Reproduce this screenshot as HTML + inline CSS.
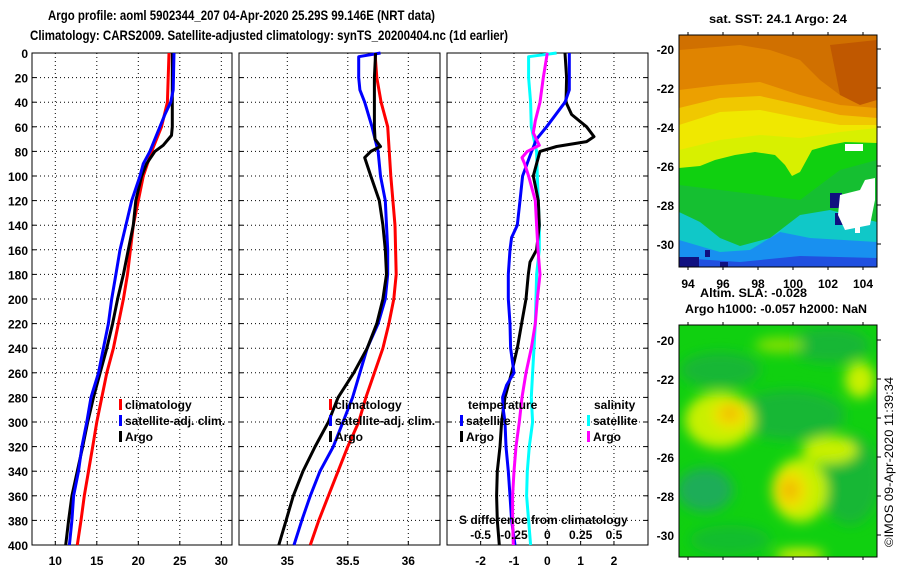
<!DOCTYPE html>
<html><head><meta charset="utf-8"><style>
html,body{margin:0;padding:0;background:#fff;}
svg{display:block;font-family:"Liberation Sans",sans-serif;font-weight:bold;}
</style></head><body>
<svg id="chart" width="900" height="580" viewBox="0 0 900 580" xmlns="http://www.w3.org/2000/svg">
<defs>
<filter id="blur4" x="-50%" y="-50%" width="200%" height="200%"><feGaussianBlur stdDeviation="6"/></filter>
<clipPath id="clipTop"><rect x="679" y="35" width="198" height="232"/></clipPath>
<clipPath id="clipBot"><rect x="679" y="325" width="198" height="232"/></clipPath>
</defs>
<text x="48" y="20" font-size="14" textLength="387" lengthAdjust="spacingAndGlyphs">Argo profile: aoml 5902344_207 04-Apr-2020 25.29S 99.146E (NRT data)</text>
<text x="30" y="40" font-size="14" textLength="478" lengthAdjust="spacingAndGlyphs">Climatology: CARS2009. Satellite-adjusted climatology: synTS_20200404.nc (1d earlier)</text>

<g>
<text x="778" y="23" font-size="12" text-anchor="middle" textLength="138" lengthAdjust="spacingAndGlyphs">sat. SST: 24.1 Argo: 24</text>
<g clip-path="url(#clipTop)">
<rect x="679" y="35" width="198" height="232" fill="#e08400"/>
<path d="M679 35 L877 35 L877 80 L860 100 L840 95 L820 80 L800 60 L770 50 L740 45 L679 50Z" fill="#d07000"/>
<path d="M830 45 L877 40 L877 100 L860 105 L840 95Z" fill="#c05800"/>
<path d="M679 90 L720 85 L760 82 L800 95 L840 105 L877 108 L877 267 L679 267Z" fill="#eca000"/>
<path d="M679 108 L720 98 L760 96 L800 105 L840 115 L877 118 L877 267 L679 267Z" fill="#f0c800"/>
<path d="M679 125 L720 112 L760 110 L800 118 L840 125 L877 125 L877 267 L679 267Z" fill="#f0e800"/>
<path d="M679 150 L720 140 L760 135 L800 138 L840 132 L877 128 L877 267 L679 267Z" fill="#d8f000"/>
<path d="M679 168 L700 166 L715 160 L735 155 L755 152 L775 155 L785 165 L792 176 L800 172 L812 150 L830 145 L845 142 L877 143 L877 267 L679 267Z" fill="#10d010"/>
<path d="M679 185 L720 190 L760 195 L800 200 L840 170 L877 160 L877 267 L679 267Z" fill="#18b840" opacity="0.7"/>
<path d="M679 212 L700 222 L720 238 L740 246 L770 238 L800 215 L830 210 L877 222 L877 267 L679 267Z" fill="#10c8c8"/>
<path d="M679 240 L720 252 L750 250 L780 232 L810 238 L877 242 L877 267 L679 267Z" fill="#1890f0"/>
<path d="M679 258 L740 262 L800 256 L877 258 L877 267 L679 267Z" fill="#2050e0"/>
<rect x="679" y="257" width="20" height="10" fill="#101080"/>
<rect x="705" y="250" width="5" height="7" fill="#101080"/>
<rect x="720" y="262" width="8" height="5" fill="#101080"/>
<rect x="830" y="193" width="12" height="15" fill="#101080"/>
<rect x="835" y="213" width="10" height="12" fill="#101080"/>
<path d="M840 195 L860 190 L865 180 L875 178 L875 200 L870 225 L845 230 L838 215 Z" fill="#ffffff"/>
<rect x="845" y="144" width="18" height="7" fill="#ffffff"/>
<rect x="855" y="225" width="5" height="8" fill="#ffffff"/>
</g>
<rect x="679" y="35" width="198" height="232" fill="none" stroke="#000" stroke-width="1"/>
</g>

<g>
<text x="700" y="297" font-size="12" textLength="107" lengthAdjust="spacingAndGlyphs">Altim. SLA: -0.028</text>
<text x="685" y="313" font-size="12" textLength="182" lengthAdjust="spacingAndGlyphs">Argo h1000: -0.057 h2000: NaN</text>
<g clip-path="url(#clipBot)">
<rect x="679" y="325" width="198" height="232" fill="#10d010"/>
<g filter="url(#blur4)">
<ellipse cx="720" cy="370" rx="40" ry="18" fill="#18b040" opacity="0.8"/>
<ellipse cx="830" cy="345" rx="40" ry="18" fill="#18b040" opacity="0.8"/>
<ellipse cx="790" cy="415" rx="55" ry="25" fill="#18b040" opacity="0.8"/>
<ellipse cx="705" cy="490" rx="28" ry="22" fill="#20a860" opacity="0.9"/>
<ellipse cx="850" cy="480" rx="30" ry="45" fill="#18b040" opacity="0.8"/>
<ellipse cx="730" cy="540" rx="40" ry="15" fill="#18b040" opacity="0.6"/>
<ellipse cx="720" cy="420" rx="35" ry="28" fill="#c8f000"/>
<ellipse cx="730" cy="415" rx="18" ry="14" fill="#f0e000"/>
<ellipse cx="730" cy="413" rx="8" ry="7" fill="#f0b800"/>
<ellipse cx="800" cy="490" rx="28" ry="32" fill="#c8f000"/>
<ellipse cx="830" cy="450" rx="28" ry="14" fill="#c8f000"/>
<ellipse cx="790" cy="490" rx="18" ry="20" fill="#f0e000"/>
<ellipse cx="790" cy="490" rx="8" ry="10" fill="#f0b800"/>
<ellipse cx="860" cy="380" rx="15" ry="18" fill="#c8f000"/>
<ellipse cx="780" cy="345" rx="25" ry="8" fill="#80e000"/>
<ellipse cx="800" cy="555" rx="25" ry="6" fill="#e8f000"/>
</g>
</g>
<rect x="679" y="325" width="198" height="232" fill="none" stroke="#000" stroke-width="1"/>
</g>
<text transform="translate(893,462) rotate(-90)" font-size="12" font-weight="normal" text-anchor="middle" textLength="170" lengthAdjust="spacingAndGlyphs">©IMOS 09-Apr-2020 11:39:34</text>

<g id="plots"></g>
</svg>
<script>
// ---- data: temperature panel ----
var tClimDepth = [0,40,60,80,100,140,180,200,220,240,260,280,300,320,340,360,380,400];
var tClimVal   = [23.7,23.5,22.8,21.6,20.6,19.4,18.7,18.2,17.6,17.0,16.2,15.6,15.0,14.5,14.0,13.5,13.1,12.65];
var tSatDepth  = [0,30,40,50,60,80,90,100,120,140,160,180,200,220,240,260,280,300,320,340,360,380,400];
var tSatVal    = [24.3,24.2,23.9,23.2,22.6,21.4,20.6,20.2,19.2,18.5,17.8,17.3,16.8,16.4,15.8,15.2,14.3,13.8,13.2,12.8,12.2,12.0,11.7];
var tArgoDepth = [0,40,60,67,75,80,90,100,120,140,160,180,200,220,240,260,280,300,320,340,360,380,400];
var tArgoVal   = [24.1,24.1,24.1,24.0,23.0,22.0,21.0,20.4,19.7,19.4,18.8,18.2,17.5,16.9,16.2,15.4,14.6,13.9,13.3,12.65,12.0,11.6,11.25];
// ---- data: salinity panel ----
var sClimDepth = [0,20,40,60,100,140,180,200,220,240,260,280,300,320,340,360,380,400];
var sClimVal   = [35.725,35.74,35.775,35.83,35.855,35.89,35.9,35.88,35.84,35.79,35.72,35.65,35.59,35.5,35.42,35.34,35.26,35.19];
var sSatDepth  = [0,3,20,30,40,60,80,100,120,140,160,180,200,220,240,260,280,300,320,340,360,380,400];
var sSatVal    = [35.77,35.59,35.59,35.6,35.64,35.7,35.75,35.77,35.81,35.82,35.83,35.83,35.81,35.75,35.66,35.6,35.54,35.46,35.38,35.27,35.19,35.12,35.055];
var sArgoDepth = [0,20,60,70,76,80,85,100,120,140,160,180,200,220,240,260,280,300,320,340,360,380,400];
var sArgoVal   = [35.73,35.72,35.72,35.725,35.77,35.69,35.64,35.69,35.76,35.79,35.81,35.82,35.79,35.74,35.66,35.55,35.42,35.34,35.23,35.13,35.05,34.99,34.93];
// ---- data: difference panel ----
var dTSatDepth = [0,30,40,60,70,80,100,120,140,150,160,180,200,220,240,260,270,280,290,300,320,340,360,380,400];
var dTSatVal   = [0.66,0.66,0.53,-0.02,-0.32,-0.47,-0.74,-0.82,-0.9,-1.07,-1.12,-1.17,-1.17,-1.12,-1.1,-1.0,-1.22,-1.34,-1.32,-1.27,-1.24,-1.17,-1.12,-1.07,-0.97];
var dTArgoDepth = [0,20,40,50,60,68,72,76,80,90,100,120,140,160,170,180,200,220,240,260,280,300,320,340,360,380,400];
var dTArgoVal   = [0.53,0.58,0.56,0.73,1.18,1.4,1.18,0.28,-0.22,-0.32,-0.42,-0.27,-0.24,-0.32,-0.52,-0.57,-0.64,-0.77,-0.9,-1.07,-1.27,-1.37,-1.42,-1.5,-1.52,-1.5,-1.44];
var dSSatDepth = [0,3,20,40,60,80,100,140,160,180,200,220,240,260,280,300,320,340,360,380,400];
var dSSatVal   = [0.07,-0.14,-0.14,-0.125,-0.12,-0.08,-0.075,-0.06,-0.06,-0.08,-0.085,-0.09,-0.1,-0.11,-0.12,-0.11,-0.135,-0.15,-0.155,-0.14,-0.125];
var dSArgoDepth = [0,20,40,55,65,75,80,85,90,100,120,140,160,180,200,220,240,260,280,300,320,340,360,380,400];
var dSArgoVal   = [0,-0.03,-0.055,-0.09,-0.105,-0.06,-0.15,-0.19,-0.17,-0.14,-0.09,-0.08,-0.07,-0.055,-0.075,-0.09,-0.12,-0.16,-0.19,-0.21,-0.235,-0.25,-0.26,-0.26,-0.255];
// ---- ticks ----
var depthTicks = [0,20,40,60,80,100,120,140,160,180,200,220,240,260,280,300,320,340,360,380,400];
var tTicks = [10,15,20,25,30];
var sTicks = [35,35.5,36];
var dTicks = [-2,-1,0,1,2];
var dSTicks = [-0.5,-0.25,0,0.25,0.5];
var dSTickLabels = ["-0.5","-0.25","0","0.25","0.5"];

var NS = "http://www.w3.org/2000/svg";
var root = document.getElementById("plots");
var TOP = 53, BOT = 545;
function yD(d){ return TOP + d*(BOT-TOP)/400; }
function xT(v){ return 55.3 + (v-10)*8.3; }
function xS(v){ return 287.3 + (v-35)*121; }
function xDT(v){ return 547.3 + v*33.33; }
function xDS(v){ return 547.3 + v*133.3; }
function mk(tag, attrs, parent){ var e=document.createElementNS(NS,tag); for(var k in attrs) e.setAttribute(k,attrs[k]); (parent||root).appendChild(e); return e; }

var panels = [
  {name:"temperature-panel", x0:32, x1:232, ticks:tTicks, fx:xT, labels:tTicks.map(String)},
  {name:"salinity-panel", x0:239, x1:440, ticks:sTicks, fx:xS, labels:sTicks.map(String)},
  {name:"difference-panel", x0:447, x1:648, ticks:dTicks, fx:xDT, labels:dTicks.map(String)}
];
panels.forEach(function(p, pi){
  var g = mk("g", {});
  
  
  p.g = g;
  depthTicks.forEach(function(d){
    var l = mk("line", {x1:p.x0, x2:p.x1, y1:yD(d), y2:yD(d), stroke:"#000", "stroke-width":1, "stroke-dasharray":"1,3"}, g);
    
    
    mk("line", {x1:p.x0, x2:p.x0+4, y1:yD(d), y2:yD(d), stroke:"#000"}, g);
    mk("line", {x1:p.x1-4, x2:p.x1, y1:yD(d), y2:yD(d), stroke:"#000"}, g);
    if(pi===0){
      var t = mk("text", {x:p.x0-4, y:yD(d)+5, "font-size":12, "text-anchor":"end"}, g);
      t.textContent = d;
      
      
    }
  });
  p.ticks.forEach(function(v, i){
    var x = p.fx(v);
    var l = mk("line", {x1:x, x2:x, y1:TOP, y2:BOT, stroke:"#000", "stroke-width":1, "stroke-dasharray":"1,3"}, g);
    
    
    mk("line", {x1:x, x2:x, y1:BOT, y2:BOT-4, stroke:"#000"}, g);
    var t = mk("text", {x:x, y:565, "font-size":12, "text-anchor":"middle"}, g);
    t.textContent = p.labels[i];
    
    
  });
  var fr = mk("rect", {x:p.x0, y:TOP, width:p.x1-p.x0, height:BOT-TOP, fill:"none", stroke:"#000", "stroke-width":1}, g);
  
  
});

function series(g, depths, vals, fx, color, name){
  var pts = depths.map(function(d,i){ return fx(vals[i]).toFixed(1)+","+yD(d).toFixed(1); }).join(" ");
  var pl = mk("polyline", {points:pts, fill:"none", stroke:color, "stroke-width":3, "stroke-linejoin":"round"}, g);
  
  
}
series(panels[0].g, tClimDepth, tClimVal, xT, "#ff0000", "temp-climatology-line");
series(panels[0].g, tArgoDepth, tArgoVal, xT, "#000000", "temp-argo-line");
series(panels[0].g, tSatDepth, tSatVal, xT, "#0000ff", "temp-satellite-line");
series(panels[1].g, sClimDepth, sClimVal, xS, "#ff0000", "sal-climatology-line");
series(panels[1].g, sSatDepth, sSatVal, xS, "#0000ff", "sal-satellite-line");
series(panels[1].g, sArgoDepth, sArgoVal, xS, "#000000", "sal-argo-line");
series(panels[2].g, dSSatDepth, dSSatVal, xDS, "#00ffff", "sdiff-satellite-line");
series(panels[2].g, dTArgoDepth, dTArgoVal, xDT, "#000000", "tdiff-argo-line");
series(panels[2].g, dTSatDepth, dTSatVal, xDT, "#0000ff", "tdiff-satellite-line");
series(panels[2].g, dSArgoDepth, dSArgoVal, xDS, "#ff00ff", "sdiff-argo-line");

function legendItem(g, x, y, color, label, name){
  var lg = mk("g", {}, g);
  
  
  if(color) mk("rect", {x:x, y:y-10, width:3, height:11, fill:color}, lg);
  var t = mk("text", {x:x+6, y:y, "font-size":12}, lg);
  t.textContent = label;
}
legendItem(panels[0].g, 119, 409, "#ff0000", "climatology", "legend-climatology");
legendItem(panels[0].g, 119, 425, "#0000ff", "satellite-adj. clim.", "legend-satellite-adj");
legendItem(panels[0].g, 119, 441, "#000000", "Argo", "legend-argo");
legendItem(panels[1].g, 329, 409, "#ff0000", "climatology", "legend-climatology");
legendItem(panels[1].g, 329, 425, "#0000ff", "satellite-adj. clim.", "legend-satellite-adj");
legendItem(panels[1].g, 329, 441, "#000000", "Argo", "legend-argo");
legendItem(panels[2].g, 462, 409, null, "temperature", "legend-temperature-heading");
legendItem(panels[2].g, 460, 425, "#0000ff", "satellite", "legend-temp-satellite");
legendItem(panels[2].g, 460, 441, "#000000", "Argo", "legend-temp-argo");
legendItem(panels[2].g, 588, 409, null, "salinity", "legend-salinity-heading");
legendItem(panels[2].g, 587, 425, "#00ffff", "satellite", "legend-sal-satellite");
legendItem(panels[2].g, 587, 441, "#ff00ff", "Argo", "legend-sal-argo");

var st = mk("text", {x:459, y:524, "font-size":12}, panels[2].g);
st.textContent = "S difference from climatology";


dSTicks.forEach(function(v,i){
  var t = mk("text", {x:xDS(v), y:539, "font-size":12, "text-anchor":"middle"}, panels[2].g);
  t.textContent = dSTickLabels[i];
  
  
});

// map axes
var latTicks = [-20,-22,-24,-26,-28,-30];
var lonTicks = [94,96,98,100,102,104];
function mapAxes(top, y20, name){
  var g = mk("g", {});
  
  
  latTicks.forEach(function(lat){
    var y = y20 + (-20-lat)*19.5;
    mk("line", {x1:877, x2:881, y1:y, y2:y, stroke:"#000"}, g);
    var t = mk("text", {x:674, y:y+5, "font-size":12, "text-anchor":"end"}, g);
    t.textContent = lat;
    
    
  });
  lonTicks.forEach(function(lon){
    var x = 688 + (lon-94)*17.5;
    mk("line", {x1:x, x2:x, y1:top-3, y2:top, stroke:"#000"}, g);
    mk("line", {x1:x, x2:x, y1:top+232, y2:top+235, stroke:"#000"}, g);
  });
  return g;
}
var gl = mapAxes(35, 49, "sst-map-axes");
mapAxes(325, 340, "sla-map-axes");
lonTicks.forEach(function(lon){
  var t = mk("text", {x:688+(lon-94)*17.5, y:288, "font-size":12, "text-anchor":"middle"}, gl);
  t.textContent = lon;
  
  
});
</script>
</body></html>
